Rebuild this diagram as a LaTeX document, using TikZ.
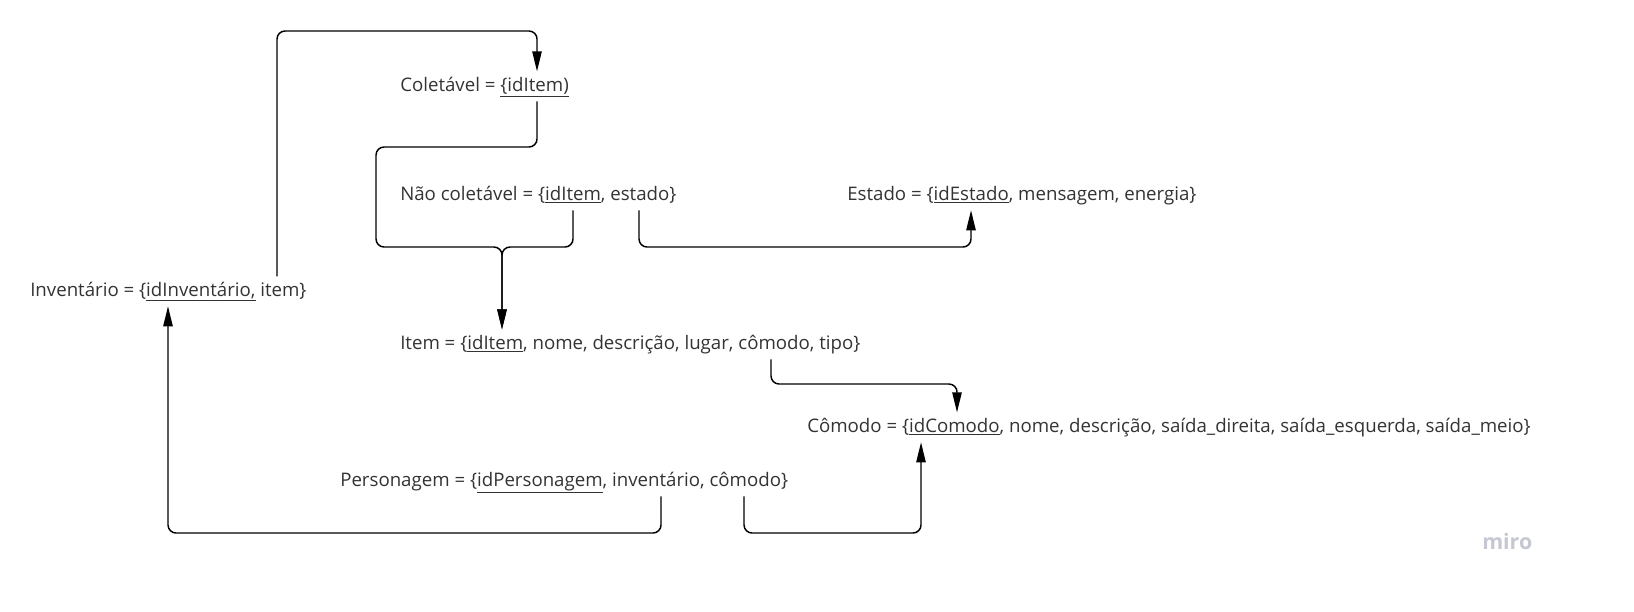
\documentclass[tikz,border=0pt]{standalone}
\usepackage{fontspec}
\setmainfont{Open Sans}
\usetikzlibrary{arrows.meta}
\definecolor{rel-text}{RGB}{51, 51, 51}
\definecolor{miro-grey}{RGB}{197, 199, 210}

\begin{document}
\begin{tikzpicture}[x=0.75pt, y=-0.75pt,
    rel/.style={anchor=base west, inner xsep=0pt, inner ysep=3.5pt, text height=11pt, text depth=4pt, text=rel-text, font=\fontsize{14}{17}\selectfont},
    link/.style={draw=black, line width=1.1pt, rounded corners=6pt, -{Triangle[length=15pt, width=7pt]}}]
\useasboundingbox (0,0) rectangle (1634,611);

\node[rel] (col)  at (400,91)  {Coletável = \underline{\{idItem)}};
\node[rel] (ncol) at (400,200) {Não coletável = \{\underline{idItem}, estado\}};
\node[rel] (est)  at (847,200) {Estado = \{\underline{idEstado}, mensagem, energia\}};
\node[rel] (inv)  at (30,296)  {Inventário = \{\underline{idInventário,} item\}};
\node[rel] (item) at (400,349) {Item = \{\underline{idItem}, nome, descrição, lugar, cômodo, tipo\}};
\node[rel] (com)  at (807,432) {Cômodo = \{\underline{idComodo}, nome, descrição, saída\_direita, saída\_esquerda, saída\_meio\}};
\node[rel] (pers) at (340,486) {Personagem = \{\underline{idPersonagem}, inventário, cômodo\}};
\node[anchor=base west, inner sep=0pt, text=miro-grey, font=\fontsize{16}{19}\selectfont\bfseries] (miro) at (1482,549) {miro};

\coordinate (a1) at (277,31);
\coordinate (a2) at (537,31);
\coordinate (b1) at (537,147);
\coordinate (b2) at (376,147);
\coordinate (b3) at (376,247);
\coordinate (b4) at (502,247);
\coordinate (c1) at (573,247);
\coordinate (d1) at (639,247);
\coordinate (d2) at (971,247);
\coordinate (e1) at (771,384);
\coordinate (e2) at (957,384);
\coordinate (f1) at (661,533);
\coordinate (f2) at (168,533);
\coordinate (g1) at (744,533);
\coordinate (g2) at (921,533);

\draw[link] (inv.north -| a1) -- (a1) -- (a2) -- (col.north -| a2);
\draw[link] (col.south -| b1) -- (b1) -- (b2) -- (b3) -- (b4) -- (item.north -| b4);
\draw[link] (ncol.south -| c1) -- (c1) -- (b4) -- (item.north -| b4);
\draw[link] (ncol.south -| d1) -- (d1) -- (d2) -- (est.south -| d2);
\draw[link] (item.south -| e1) -- (e1) -- (e2) -- (com.north -| e2);
\draw[link] (pers.south -| f1) -- (f1) -- (f2) -- (inv.south -| f2);
\draw[link] (pers.south -| g1) -- (g1) -- (g2) -- (com.south -| g2);

\end{tikzpicture}
\end{document}
